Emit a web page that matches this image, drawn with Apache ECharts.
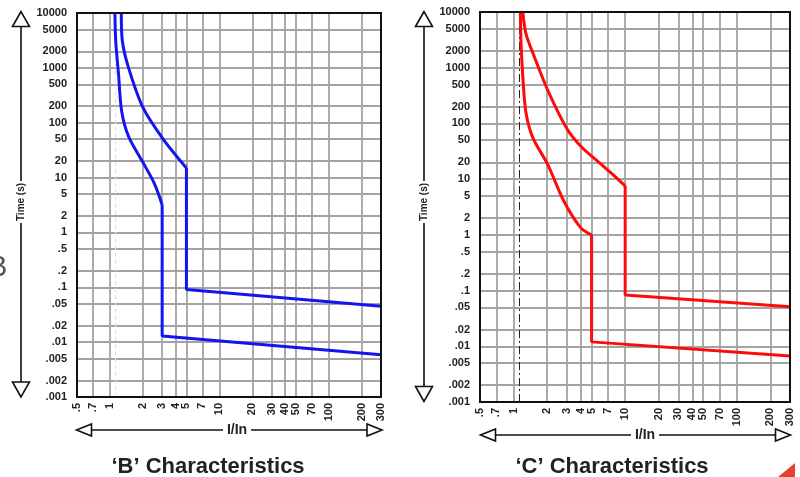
<!DOCTYPE html>
<html><head><meta charset="utf-8">
<script src="https://cdn.jsdelivr.net/npm/echarts@6.0.0/dist/echarts.min.js"></script>
<style>html,body{margin:0;padding:0;background:#fff}#c{width:800px;height:477px}</style>
</head><body><div id="c"></div>
<script>
// ---- data ----
const xTickValues = [0.5, 0.7, 1, 2, 3, 4, 5, 7, 10, 20, 30, 40, 50, 70, 100, 200, 300];
const yTickValues = [0.001, 0.002, 0.005, 0.01, 0.02, 0.05, 0.1, 0.2, 0.5, 1, 2, 5, 10, 20, 50, 100, 200, 500, 1000, 2000, 5000, 10000];
const conventionalTrip = 1.13;

const bMinThermal = [[1.11, 10000], [1.13, 3020], [1.2, 736], [1.28, 162], [1.48, 56], [1.97, 20], [2.53, 8], [3, 3.2]];
const bMinMagnetic = [[3, 3.2], [3, 0.013], [300, 0.0059]];
const bMaxThermal = [[1.27, 10000], [1.3, 3020], [1.48, 1000], [2, 190], [3.05, 51], [5, 15]];
const bMaxMagnetic = [[5, 15], [5, 0.091], [300, 0.045]];

const cMinThermal = [[1.15, 10000], [1.165, 2910], [1.21, 682], [1.29, 157], [1.49, 55], [2.02, 18.4], [2.81, 4.1], [4.02, 1.32], [5, 1]];
const cMinMagnetic = [[5, 1], [5, 0.012], [300, 0.0067]];
const cMaxThermal = [[1.21, 10000], [1.29, 4110], [1.54, 1540], [2.02, 397], [3, 81], [4, 39], [6.4, 17], [10, 7.6]];
const cMaxMagnetic = [[10, 7.6], [10, 0.083], [300, 0.051]];

const titles = ['\u2018B\u2019 Characteristics', '\u2018C\u2019 Characteristics'];
const xName = 'I/In';
const yName = 'Time (s)';

// ---- layout / style ----
const FONT = '"Liberation Sans", Arial, Helvetica, sans-serif';
const GRIDS = [
  { left: 77, top: 13, width: 304, height: 384 },
  { left: 480, top: 12, width: 310, height: 390 }
];
const BLUE = '#1414f0', RED = '#ff0a0a';

function fmt(v) {
  const n = +(+v).toPrecision(4);
  return n < 1 ? String(n).replace(/^0/, '') : String(n);
}
function xAxis(gi) {
  return {
    type: 'log', logBase: 10, gridIndex: gi, min: 0.5, max: 300,
    axisLine: { show: false }, axisTick: { show: false, customValues: xTickValues },
    axisLabel: { customValues: xTickValues, rotate: 90, margin: 6, fontSize: 11, fontWeight: 'bold', color: '#222', fontFamily: FONT, formatter: fmt },
    splitLine: { show: true, lineStyle: { color: '#a3a3a3', width: 1.8 } },
    minorTick: { show: false }, minorSplitLine: { show: false }
  };
}
function yAxis(gi) {
  return {
    type: 'log', logBase: 10, gridIndex: gi, min: 0.001, max: 10000,
    axisLine: { show: false }, axisTick: { show: false, customValues: yTickValues },
    axisLabel: { customValues: yTickValues, margin: 10, fontSize: 11, fontWeight: 'bold', color: '#222', fontFamily: FONT, formatter: fmt },
    splitLine: { show: true, lineStyle: { color: '#a3a3a3', width: 1.8 } },
    minorTick: { show: false }, minorSplitLine: { show: false }
  };
}
function curve(gi, data, color, smooth, markLine) {
  const s = {
    type: 'line', xAxisIndex: gi, yAxisIndex: gi, data: data, showSymbol: false, symbol: 'none',
    smooth: smooth ? 0.3 : false,
    lineStyle: { color: color, width: 3 }, silent: true, z: 5
  };
  if (markLine) s.markLine = markLine;
  return s;
}
const ntLeft = { silent: true, symbol: 'none', label: { show: false },
  lineStyle: { color: '#e2e2e2', type: [4, 3], width: 1.2 }, data: [{ xAxis: conventionalTrip }] };
const ntRight = { silent: true, symbol: 'none', label: { show: false },
  lineStyle: { color: '#222', type: [8, 3, 2, 3], width: 1 }, data: [{ xAxis: conventionalTrip }] };

// ---- decoration helpers ----
const LS = { stroke: '#111', lineWidth: 1.6 };
const HEAD = { fill: '#fff', stroke: '#111', lineWidth: 1.6 };
function vArrow(x, y1, y2, labelY) {
  const h = 15, w = 8.5, gap = 21;
  return [
    { type: 'line', shape: { x1: x, y1: y1 + h, x2: x, y2: labelY - gap }, style: LS },
    { type: 'line', shape: { x1: x, y1: labelY + gap, x2: x, y2: y2 - h }, style: LS },
    { type: 'polygon', shape: { points: [[x, y1], [x - w, y1 + h], [x + w, y1 + h]] }, style: HEAD },
    { type: 'polygon', shape: { points: [[x, y2], [x - w, y2 - h], [x + w, y2 - h]] }, style: HEAD },
    { type: 'text', x: x, y: labelY, rotation: Math.PI / 2,
      style: { text: yName, align: 'center', verticalAlign: 'middle', font: 'bold 10px ' + FONT, fill: '#222' } }
  ];
}
function hArrow(y, x1, x2, labelX) {
  const h = 15, w = 6, gap = 14;
  return [
    { type: 'line', shape: { x1: x1 + h, y1: y, x2: labelX - gap, y2: y }, style: LS },
    { type: 'line', shape: { x1: labelX + gap, y1: y, x2: x2 - h, y2: y }, style: LS },
    { type: 'polygon', shape: { points: [[x1, y], [x1 + h, y - w], [x1 + h, y + w]] }, style: HEAD },
    { type: 'polygon', shape: { points: [[x2, y], [x2 - h, y - w], [x2 - h, y + w]] }, style: HEAD },
    { type: 'text', x: labelX, y: y,
      style: { text: xName, align: 'center', verticalAlign: 'middle', font: 'bold 14px ' + FONT, fill: '#222' } }
  ];
}
const graphics = [].concat(
  GRIDS.map(g => ({ type: 'rect', z: 100, shape: { x: g.left, y: g.top, width: g.width, height: g.height },
    style: { fill: 'none', stroke: '#111', lineWidth: 2 } })),
  vArrow(21, 11.5, 397, 202),
  vArrow(424, 11.5, 401.5, 202),
  hArrow(430, 76.5, 382, 237),
  hArrow(435, 480.5, 790.5, 645),
  [
    { type: 'text', x: 208, y: 467, style: { text: titles[0], align: 'center', verticalAlign: 'middle', font: 'bold 22px ' + FONT, fill: '#222' } },
    { type: 'text', x: 612, y: 467, style: { text: titles[1], align: 'center', verticalAlign: 'middle', font: 'bold 22px ' + FONT, fill: '#222' } },
    { type: 'text', x: -12, y: 268, style: { text: 'B', align: 'left', verticalAlign: 'middle', font: 'normal 29px ' + FONT, fill: '#555' } },
    { type: 'polygon', shape: { points: [[778, 477], [795, 463], [795, 477]] }, style: { fill: '#e8402f' } }
  ]
);

const chart = echarts.init(document.getElementById('c'), null, { renderer: 'canvas' });
chart.setOption({
  animation: false,
  backgroundColor: '#fff',
  grid: GRIDS.map(g => Object.assign({ containLabel: false }, g)),
  xAxis: [xAxis(0), xAxis(1)],
  yAxis: [yAxis(0), yAxis(1)],
  series: [
    curve(0, bMinThermal, BLUE, true, ntLeft),
    curve(0, bMinMagnetic, BLUE, false),
    curve(0, bMaxThermal, BLUE, true),
    curve(0, bMaxMagnetic, BLUE, false),
    curve(1, cMinThermal, RED, true, ntRight),
    curve(1, cMinMagnetic, RED, false),
    curve(1, cMaxThermal, RED, true),
    curve(1, cMaxMagnetic, RED, false)
  ],
  graphic: graphics
});
</script>
</body></html>
